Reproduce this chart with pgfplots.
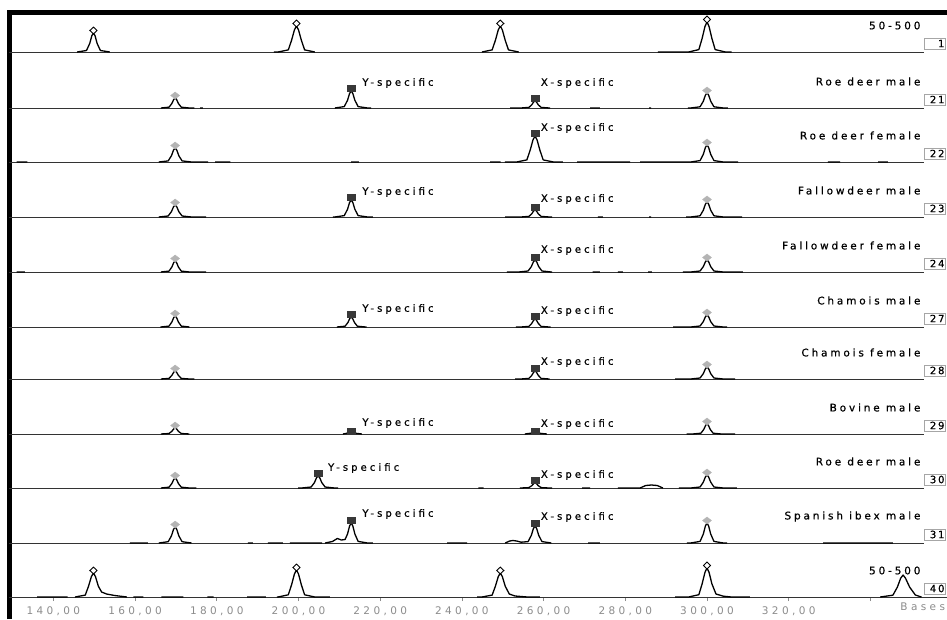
\documentclass[border=0pt]{standalone}
\usepackage{fontspec}
\setmainfont{DejaVu Sans}
\newfontfamily\lspL[LetterSpace=27, FakeBold=0.6]{DejaVu Sans}
\newfontfamily\lspA[LetterSpace=31, FakeBold=0.6]{DejaVu Sans}
\newfontfamily\lspN[LetterSpace=18, FakeBold=0.6]{DejaVu Sans}
\newfontfamily\lspT[LetterSpace=32]{DejaVu Sans}
\usepackage{pgfplots}
\pgfplotsset{compat=1.18}
\definecolor{grmk}{HTML}{B4B4B4}
\definecolor{sqmk}{HTML}{383838}
\definecolor{ticktxt}{HTML}{8C8C8C}
\newcommand\labfont{\fontsize{10.5}{12}\lspL}
\newcommand\annfont{\fontsize{10}{12}\lspA}
\newcommand\numfont{\fontsize{10}{11}\lspN}
\newcommand\tickfont{\fontsize{10.5}{12}\lspT}
\tikzset{ann/.style={font=\annfont, anchor=west, inner sep=0}}
\newcommand\trace[2]{\addplot[black, line width=1.3pt, line join=round, no marks] table[row sep=\\, y expr=\thisrow{y}+#1] {x y\\ #2};}
\newcommand\base[1]{\draw[black!80, line width=0.8pt] (axis cs:129.13,#1) -- (axis cs:353.1,#1);}
\newcommand\plab[3]{\node[anchor=east, font=\labfont, inner sep=0] at (axis cs:352.3,#1+26.5) {#2};
 \node[draw=gray!70, fill=white, font=\numfont, inner xsep=0.5pt, inner ysep=0pt, text width=20pt, align=right, minimum height=11.5pt] at (axis cs:355.68,#1+8.5) {#3};}
\begin{document}
\begin{tikzpicture}
\useasboundingbox (-9pt,-22pt) rectangle (938pt,597pt);
\begin{axis}[
  scale only axis, width=938pt, height=585pt,
  xmin=129.13, xmax=358.75, ymin=0, ymax=585,
  axis line style={draw=none},
  ytick=\empty,
  xtick={140,160,...,340},
  xticklabels={{140,00},{160,00},{180,00},{200,00},{220,00},{240,00},{260,00},{280,00},{300,00},{320,00},{}},
  xtick pos=lower, tick align=outside, major tick length=4pt,
  tick style={ticktxt, line width=0.8pt},
  xticklabel style={font=\tickfont, text=ticktxt, anchor=center, yshift=-10pt},
  clip=false,
  unbounded coords=jump,
]
% frame
\draw[black, line width=5pt] (axis cs:129.25,-22) -- (axis cs:129.25,586.5);
\draw[black, line width=5pt] (axis cs:128.7,584) -- (axis cs:358.75,584);
% baselines
\base{545}\base{489}\base{435}\base{380}\base{325}\base{270}\base{218}\base{163}\base{109}\base{54}
\draw[black!80, line width=0.8pt] (axis cs:129.13,0) -- (axis cs:358.75,0);

% traces
\trace{545}{145.8 0\\148.1 1.5\\148.9 8.6\\149.4 16.2\\149.8 19\\150.2 16.2\\150.7 8.6\\151.5 1.5\\153.8 0\\nan 0\\
194 0\\195.0 0\\197.5 2.1\\198.3 11.7\\199.0 22.1\\199.5 26\\200.0 22.1\\200.7 11.7\\201.5 2.1\\204.0 0\\nan 0\\
244.9 0\\247.4 2.1\\248.2 11.7\\248.9 22.1\\249.4 26\\249.9 22.1\\250.6 11.7\\251.4 2.1\\253.9 0\\nan 0\\
288 0\\295.5 0\\298.0 2.4\\298.8 13.5\\299.5 25.5\\300 30\\300.5 25.5\\301.2 13.5\\302.0 2.4\\304.5 0\\306 0\\}

\trace{489}{166.3 0\\168.3 0.8\\169.0 4.5\\169.45 8.5\\169.8 10\\170.15 8.5\\170.6 4.5\\171.3 0.8\\173.3 0\\174.5 0\\nan 0\\
175.9 0\\176.6 0\\nan 0\\
208.9 0\\211.2 1.4\\212.0 7.7\\212.5 14.5\\212.9 17\\213.3 14.5\\213.8 7.7\\214.6 1.4\\216.9 0\\217.8 0\\nan 0\\
251.8 0\\254.4 0\\256.4 0.6\\257.1 3.2\\257.55 6\\257.9 7\\258.25 6\\258.7 3.2\\259.4 0.6\\261.4 0\\261.6 0\\nan 0\\
271.4 0\\273.8 0\\nan 0\\285.8 0\\286.3 0\\nan 0\\
295.3 0\\296 0\\298.3 1.2\\299.1 6.8\\299.6 12.8\\300 15\\300.4 12.8\\300.9 6.8\\301.7 1.2\\304 0\\305.1 0\\}

\trace{435}{131 0\\133.6 0\\nan 0\\
165.8 0\\168.1 1.1\\168.9 6.3\\169.4 11.9\\169.8 14\\170.2 11.9\\170.7 6.3\\171.5 1.1\\173.8 0\\177.9 0\\nan 0\\
179.6 0\\183.3 0\\nan 0\\212.9 0\\214.8 0\\nan 0\\
246.9 0\\249.5 0\\nan 0\\
250.5 0\\253.4 0\\255.9 2.1\\256.7 11.7\\257.4 22.1\\257.9 26\\258.4 22.1\\259.1 11.7\\259.9 2.1\\262.4 0\\264.7 0\\nan 0\\
268.2 0\\281.2 0\\nan 0\\
283.6 0\\296 0\\298.3 1.4\\299.1 7.7\\299.6 14.5\\300 17\\300.4 14.5\\300.9 7.7\\301.7 1.4\\304 0\\307.6 0\\nan 0\\
329.6 0\\332.6 0\\nan 0\\341.9 0\\344.3 0\\}

\trace{380}{165.8 0\\168.1 1\\168.9 5.4\\169.4 10.2\\169.8 12\\170.2 10.2\\170.7 5.4\\171.5 1\\173.8 0\\177.4 0\\nan 0\\
208.4 0\\208.9 0\\211.2 1.4\\212.0 7.7\\212.5 14.5\\212.9 17\\213.3 14.5\\213.8 7.7\\214.6 1.4\\216.9 0\\218.2 0\\nan 0\\
250.6 0\\254.4 0\\256.4 0.6\\257.1 3.2\\257.55 6\\257.9 7\\258.25 6\\258.7 3.2\\259.4 0.6\\261.4 0\\262.1 0\\nan 0\\
273.3 0\\274.5 0\\nan 0\\285.8 0\\286.3 0\\nan 0\\
294.9 0\\296 0\\298.3 1.2\\299.1 6.8\\299.6 12.8\\300 15\\300.4 12.8\\300.9 6.8\\301.7 1.2\\304 0\\308.6 0\\}

\trace{325}{131 0\\133 0\\nan 0\\
166.3 0\\168.3 0.9\\169.0 5\\169.45 9.4\\169.8 11\\170.15 9.4\\170.6 5\\171.3 0.9\\173.3 0\\177.4 0\\nan 0\\
251.0 0\\253.9 0\\256.2 1\\257.0 5.4\\257.5 10.2\\257.9 12\\258.3 10.2\\258.8 5.4\\259.6 1\\261.9 0\\262.1 0\\nan 0\\
272 0\\273.8 0\\nan 0\\278.2 0\\279.4 0\\nan 0\\285.6 0\\286.5 0\\nan 0\\
294.1 0\\296 0\\298.3 1\\299.1 5.4\\299.6 10.2\\300 12\\300.4 10.2\\300.9 5.4\\301.7 1\\304 0\\308.8 0\\}

\trace{270}{166.2 0\\166.3 0\\168.3 0.9\\169.0 5\\169.45 9.4\\169.8 11\\170.15 9.4\\170.6 5\\171.3 0.9\\173.3 0\\nan 0\\
209.4 0\\211.4 0.8\\212.1 4.5\\212.55 8.5\\212.9 10\\213.25 8.5\\213.7 4.5\\214.4 0.8\\216.4 0\\216.7 0\\nan 0\\
253.2 0\\254.4 0\\256.4 0.6\\257.1 3.6\\257.55 6.8\\257.9 8\\258.25 6.8\\258.7 3.6\\259.4 0.6\\261.4 0\\261.7 0\\nan 0\\
291.7 0\\296 0\\298.3 1\\299.1 5.4\\299.6 10.2\\300 12\\300.4 10.2\\300.9 5.4\\301.7 1\\304 0\\304.9 0\\}

\trace{218}{166.3 0\\168.3 0.6\\169.0 3.6\\169.45 6.8\\169.8 8\\170.15 6.8\\170.6 3.6\\171.3 0.6\\173.3 0\\174.5 0\\nan 0\\
253.0 0\\254.4 0\\256.4 0.6\\257.1 3.6\\257.55 6.8\\257.9 8\\258.25 6.8\\258.7 3.6\\259.4 0.6\\261.4 0\\261.5 0\\nan 0\\
292.2 0\\296 0\\298.3 1\\299.1 5.4\\299.6 10.2\\300 12\\300.4 10.2\\300.9 5.4\\301.7 1\\304 0\\306.9 0\\}

\trace{163}{166.3 0\\168.3 0.5\\169.0 2.7\\169.45 5.1\\169.8 6\\170.15 5.1\\170.6 2.7\\171.3 0.5\\173.3 0\\nan 0\\
210.9 0\\211.9 0.8\\212.4 2.6\\212.9 3\\213.4 2.6\\213.9 0.8\\215.5 0\\nan 0\\
255.4 0\\256.9 0.8\\257.4 2.6\\257.9 3\\258.4 2.6\\258.9 0.8\\260.8 0\\nan 0\\
295 0\\296.5 0\\298.5 0.8\\299.2 4.5\\299.65 8.5\\300 10\\300.35 8.5\\300.8 4.5\\301.5 0.8\\303.5 0\\306.9 0\\}

\trace{109}{166.3 0\\168.3 0.8\\169.0 4.5\\169.45 8.5\\169.8 10\\170.15 8.5\\170.6 4.5\\171.3 0.8\\173.3 0\\175 0\\nan 0\\
199.9 0\\200.8 0\\203.1 1\\203.9 5.4\\204.4 10.2\\204.8 12\\205.2 10.2\\205.7 5.4\\206.5 1\\208.8 0\\209.7 0\\nan 0\\
244 0\\245.3 0\\nan 0\\
254.2 0\\254.4 0\\256.4 0.4\\257.1 2.3\\257.55 4.3\\257.9 5\\258.25 4.3\\258.7 2.3\\259.4 0.4\\261.4 0\\262.1 0\\nan 0\\
269.4 0\\271.4 0\\nan 0\\
278.2 0\\283.6 0\\285 2.5\\286.4 3\\287.8 2.5\\289.2 0\\nan 0\\
293.1 0\\296 0\\298.3 1\\299.1 5.9\\299.6 11\\300 13\\300.4 11\\300.9 5.9\\301.7 1\\304 0\\307.3 0\\}

\trace{54}{158.7 0\\163.1 0\\nan 0\\
165.8 0\\168.1 1.3\\168.9 7.2\\169.4 13.6\\169.8 16\\170.2 13.6\\170.7 7.2\\171.5 1.3\\173.8 0\\nan 0\\
187.6 0\\188.8 0\\nan 0\\192.5 0\\196.2 0\\nan 0\\197.9 0\\205.8 0\\nan 0\\
206.5 0\\208.3 1.5\\209.5 4.5\\210.5 3\\211.4 3.5\\212.0 9\\212.5 17\\212.9 20\\213.3 17\\213.8 9\\214.6 1.6\\216.9 0\\218.2 0\\nan 0\\
236.4 0\\241.3 0\\nan 0\\
250.6 0\\251.7 2\\252.5 2.5\\253.4 2\\254.5 0.8\\256.2 1.4\\257.0 7.7\\257.5 14.5\\257.9 17\\258.3 14.5\\258.8 7.7\\259.6 1.4\\261.9 0\\nan 0\\
270.9 0\\273.8 0\\nan 0\\
295.1 0\\296 0\\298.3 1.6\\299.1 9\\299.6 17\\300 20\\300.4 17\\300.9 9\\301.7 1.6\\304 0\\304.9 0\\nan 0\\
328.4 0\\345.5 0\\}

\trace{0}{136 0\\143.5 0\\nan 0\\
145.3 0\\147.8 1.9\\148.6 10.8\\149.3 20.4\\149.8 24\\150.3 20.4\\151.0 10.8\\151.8 5\\153 3\\155 1.5\\158 0\\nan 0\\
159.6 0\\162 0\\nan 0\\166.4 0\\171.8 0\\nan 0\\177.7 0\\179.2 0\\nan 0\\187.4 0\\192 0\\nan 0\\
194.7 0\\195.0 0\\197.5 2.2\\198.3 12.2\\199.0 23\\199.5 27\\200.0 23\\200.7 12.2\\201.5 2.2\\204.0 0\\207.7 0\\nan 0\\
243.7 0\\244.9 0\\247.4 1.9\\248.2 10.8\\248.9 20.4\\249.4 24\\249.9 20.4\\250.6 10.8\\251.6 3\\253 1\\256 0\\259.1 0\\nan 0\\
292.2 0\\295.5 0\\298.0 2.3\\298.8 13.1\\299.5 24.7\\300 29\\300.5 24.7\\301.2 13.1\\302.2 3\\304 0.8\\306 0\\310.5 0\\nan 0\\
342.4 0\\345.5 1.8\\346.6 9.9\\347.4 18.7\\348 22\\348.6 18.7\\349.6 9.9\\351 2\\352.5 0\\}

% ladder markers
\addplot[only marks, mark=diamond*, mark size=3.4pt, mark options={fill=white, draw=black, line width=0.9pt, xscale=1.4}] coordinates {
(149.8,566.5) (199.5,573.5) (249.4,573.5) (300,577.5)
(149.8,26.5) (199.5,29.5) (249.4,26.5) (300,31.5)};
% grey diamonds
\addplot[only marks, mark=diamond*, mark size=3.5pt, mark options={fill=grmk, draw=grmk, xscale=1.7}] coordinates {
(169.8,501.5) (300,506.5) (169.8,451.5) (300,454.5) (169.8,394.5) (300,397.5)
(169.8,338.5) (300,339.5) (169.8,283.5) (300,284.5) (169.8,228.5) (300,232.5)
(169.8,171.5) (300,175.5) (169.8,121.5) (300,124.5) (169.8,72.5) (300,76.5)};
% allele squares
\addplot[only marks, mark=square*, mark size=3pt, mark options={fill=sqmk, draw=sqmk, xscale=1.25}] coordinates {
(212.9,509) (257.9,499) (257.9,464) (212.9,400) (257.9,390) (257.9,340)
(212.9,283) (257.9,281) (257.9,229) (212.9,166) (257.9,166)
(204.8,124) (257.9,117) (212.9,77) (257.9,74)};

% annotations
\node[ann] at (axis cs:215.6,514) {Y-specific};
\node[ann] at (axis cs:259.3,514) {X-specific};
\node[ann] at (axis cs:259.3,469) {X-specific};
\node[ann] at (axis cs:215.6,405) {Y-specific};
\node[ann] at (axis cs:259.3,398) {X-specific};
\node[ann] at (axis cs:259.3,347) {X-specific};
\node[ann] at (axis cs:215.6,288) {Y-specific};
\node[ann] at (axis cs:259.3,286) {X-specific};
\node[ann] at (axis cs:259.3,235) {X-specific};
\node[ann] at (axis cs:215.6,174) {Y-specific};
\node[ann] at (axis cs:259.3,173) {X-specific};
\node[ann] at (axis cs:207.2,129) {Y-specific};
\node[ann] at (axis cs:259.3,122) {X-specific};
\node[ann] at (axis cs:215.6,83) {Y-specific};
\node[ann] at (axis cs:259.3,80) {X-specific};

% panel labels and numbers
\plab{545}{50-500}{1}
\plab{489}{Roe deer male}{21}
\plab{435}{Roe deer female}{22}
\plab{380}{Fallowdeer male}{23}
\plab{325}{Fallowdeer female}{24}
\plab{270}{Chamois male}{27}
\plab{218}{Chamois female}{28}
\plab{163}{Bovine male}{29}
\plab{109}{Roe deer male}{30}
\plab{54}{Spanish ibex male}{31}
\plab{0}{50-500}{40}

\node[anchor=east, font=\tickfont, text=ticktxt, inner sep=0] at (axis cs:358.3,-10) {Bases};
\end{axis}
\end{tikzpicture}
\end{document}
